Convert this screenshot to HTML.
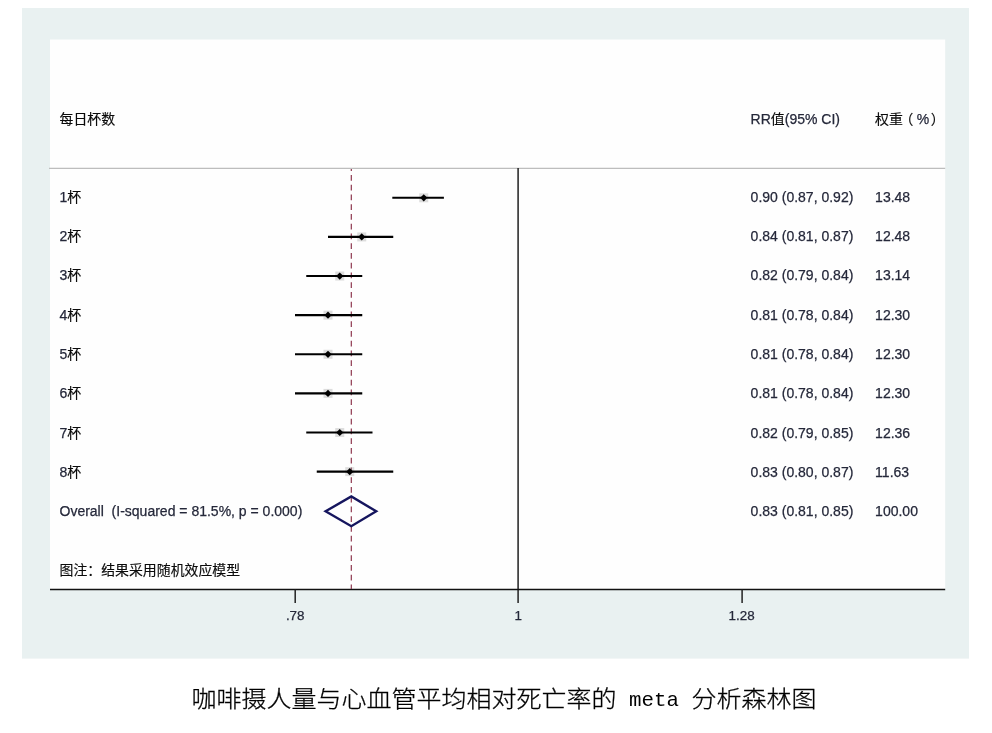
<!DOCTYPE html>
<html lang="zh-CN">
<head>
<meta charset="utf-8">
<title>咖啡摄人量与心血管平均相对死亡率的 meta 分析森林图</title>
<style>
html,body{margin:0;padding:0;background:#fff;}
body{width:992px;height:733px;position:relative;overflow:hidden;font-family:"Liberation Sans","Noto Sans CJK SC",sans-serif;}
svg{position:absolute;left:0;top:0;}
.t{position:absolute;white-space:pre;font-size:14px;line-height:20px;height:20px;color:#25283a;-webkit-text-stroke:0.25px #25283a;}
.t .z{color:#0a0a0a;-webkit-text-stroke:0.15px #0a0a0a;font-size:13.9px;}
.pl{position:relative;left:-3.5px;}
.pr{position:relative;left:1.5px;}
.c{transform:translateX(-50%);font-size:13.4px;}
#title{position:absolute;left:191.5px;top:683px;height:32px;line-height:32px;font-size:25px;white-space:pre;color:#000;font-family:"Liberation Sans","Noto Sans CJK SC",sans-serif;font-weight:300;-webkit-text-stroke:0.3px #000;margin:0;transform:scaleY(0.92);transform-origin:0 50%;}
#title .m{font-family:"Liberation Mono",monospace;font-size:20.8px;font-weight:400;-webkit-text-stroke:0;display:inline-block;position:relative;top:-1px;transform:scaleY(1.1);transform-origin:50% 75%;}
</style>
</head>
<body>
<svg width="992" height="733" viewBox="0 0 992 733">
<rect x="22" y="8" width="947" height="650.6" fill="#e9f1f1"/>
<rect x="50" y="39.5" width="895.2" height="550" fill="#fefefe"/>
<line x1="49" y1="168.3" x2="945.2" y2="168.3" stroke="#bdbdbd" stroke-width="1.2"/>
<line x1="518.1" y1="168" x2="518.1" y2="603" stroke="#2e2e2e" stroke-width="1.6"/>
<line x1="50" y1="589.5" x2="945.2" y2="589.5" stroke="#111" stroke-width="1.5"/>
<line x1="295.2" y1="589.6" x2="295.2" y2="603" stroke="#222" stroke-width="1.5"/>
<line x1="742.1" y1="589.6" x2="742.1" y2="603" stroke="#222" stroke-width="1.5"/>
<line x1="351.3" y1="168.9" x2="351.3" y2="589" stroke="#8a3048" stroke-width="1.15" stroke-dasharray="5.6 4.15" stroke-dashoffset="3.55"/>

<rect x="419.25" y="193.30" width="9" height="9" fill="#999" opacity="0.32"/>
<line x1="392.3" y1="197.80" x2="443.9" y2="197.80" stroke="#000" stroke-width="2.1"/>
<polygon points="420.15,197.80 423.75,194.20 427.35,197.80 423.75,201.40" fill="#000"/>
<rect x="357.25" y="232.42" width="9" height="9" fill="#999" opacity="0.32"/>
<line x1="328" y1="236.92" x2="393.25" y2="236.92" stroke="#000" stroke-width="2.1"/>
<polygon points="358.15,236.92 361.75,233.32 365.35,236.92 361.75,240.52" fill="#000"/>
<rect x="335.25" y="271.54" width="9" height="9" fill="#999" opacity="0.32"/>
<line x1="306.25" y1="276.04" x2="362.25" y2="276.04" stroke="#000" stroke-width="2.1"/>
<polygon points="336.15,276.04 339.75,272.44 343.35,276.04 339.75,279.64" fill="#000"/>
<rect x="323.50" y="310.66" width="9" height="9" fill="#999" opacity="0.32"/>
<line x1="295" y1="315.16" x2="362.25" y2="315.16" stroke="#000" stroke-width="2.1"/>
<polygon points="324.40,315.16 328.00,311.56 331.60,315.16 328.00,318.76" fill="#000"/>
<rect x="323.50" y="349.78" width="9" height="9" fill="#999" opacity="0.32"/>
<line x1="295" y1="354.28" x2="362.25" y2="354.28" stroke="#000" stroke-width="2.1"/>
<polygon points="324.40,354.28 328.00,350.68 331.60,354.28 328.00,357.88" fill="#000"/>
<rect x="323.50" y="388.90" width="9" height="9" fill="#999" opacity="0.32"/>
<line x1="295" y1="393.40" x2="362.25" y2="393.40" stroke="#000" stroke-width="2.1"/>
<polygon points="324.40,393.40 328.00,389.80 331.60,393.40 328.00,397.00" fill="#000"/>
<rect x="335.25" y="428.02" width="9" height="9" fill="#999" opacity="0.32"/>
<line x1="306.25" y1="432.52" x2="372.5" y2="432.52" stroke="#000" stroke-width="2.1"/>
<polygon points="336.15,432.52 339.75,428.92 343.35,432.52 339.75,436.12" fill="#000"/>
<rect x="345.25" y="467.14" width="9" height="9" fill="#999" opacity="0.32"/>
<line x1="316.75" y1="471.64" x2="393.25" y2="471.64" stroke="#000" stroke-width="2.1"/>
<polygon points="346.15,471.64 349.75,468.04 353.35,471.64 349.75,475.24" fill="#000"/>
<polygon points="325.6,511.3 351.3,496.40000000000003 376.2,511.3 351.3,526.2" fill="none" stroke="#15155e" stroke-width="2.4" stroke-linejoin="miter"/>
</svg>
<div class="t" style="left:59.5px;top:109px"><span class="z">每日杯数</span></div>
<div class="t" style="left:750.6px;top:109px">RR<span class="z">值</span>(95% CI)</div>
<div class="t" style="left:875.1px;top:109px"><span class="z">权重<span class="pl">（</span></span>%<span class="z"><span class="pr">）</span></span></div>
<div class="t" style="left:59.5px;top:187px">1<span class="z">杯</span></div>
<div class="t" style="left:750.6px;top:187px">0.90 (0.87, 0.92)</div>
<div class="t" style="left:875.1px;top:187px">13.48</div>
<div class="t" style="left:59.5px;top:226px">2<span class="z">杯</span></div>
<div class="t" style="left:750.6px;top:226px">0.84 (0.81, 0.87)</div>
<div class="t" style="left:875.1px;top:226px">12.48</div>
<div class="t" style="left:59.5px;top:265px">3<span class="z">杯</span></div>
<div class="t" style="left:750.6px;top:265px">0.82 (0.79, 0.84)</div>
<div class="t" style="left:875.1px;top:265px">13.14</div>
<div class="t" style="left:59.5px;top:305px">4<span class="z">杯</span></div>
<div class="t" style="left:750.6px;top:305px">0.81 (0.78, 0.84)</div>
<div class="t" style="left:875.1px;top:305px">12.30</div>
<div class="t" style="left:59.5px;top:344px">5<span class="z">杯</span></div>
<div class="t" style="left:750.6px;top:344px">0.81 (0.78, 0.84)</div>
<div class="t" style="left:875.1px;top:344px">12.30</div>
<div class="t" style="left:59.5px;top:383px">6<span class="z">杯</span></div>
<div class="t" style="left:750.6px;top:383px">0.81 (0.78, 0.84)</div>
<div class="t" style="left:875.1px;top:383px">12.30</div>
<div class="t" style="left:59.5px;top:423px">7<span class="z">杯</span></div>
<div class="t" style="left:750.6px;top:423px">0.82 (0.79, 0.85)</div>
<div class="t" style="left:875.1px;top:423px">12.36</div>
<div class="t" style="left:59.5px;top:462px">8<span class="z">杯</span></div>
<div class="t" style="left:750.6px;top:462px">0.83 (0.80, 0.87)</div>
<div class="t" style="left:875.1px;top:462px">11.63</div>
<div class="t" style="left:59.5px;top:501px">Overall  (I-squared = 81.5%, p = 0.000)</div>
<div class="t" style="left:750.6px;top:501px">0.83 (0.81, 0.85)</div>
<div class="t" style="left:875.1px;top:501px">100.00</div>
<div class="t" style="left:59.5px;top:560px"><span class="z">图注：结果采用随机效应模型</span></div>
<div class="t c" style="left:295.2px;top:606px">.78</div>
<div class="t c" style="left:518.3px;top:606px">1</div>
<div class="t c" style="left:741.6px;top:606px">1.28</div>
<h1 id="title">咖啡摄人量与心血管平均相对死亡率的<span class="m"> meta </span>分析森林图</h1>
</body>
</html>
